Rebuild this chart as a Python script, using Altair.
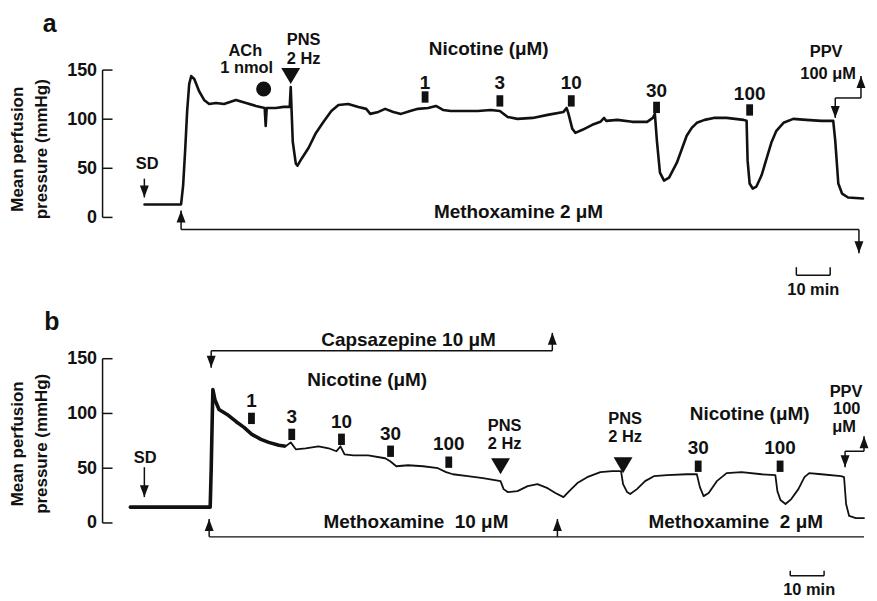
import altair as alt
import pandas as pd

FONT = "Liberation Sans"
INK = "#111111"

# ---------------- panel a : recorded trace (time in min, pressure in mmHg) ----------------
a_trace_t = [12.4, 20.6, 23.2, 23.8, 24.4, 25.0, 25.6, 26.2, 27.1, 28.5, 30.0, 31.5, 33.5, 35.9, 39.4,
             42.4, 45.3, 47.9, 48.2, 48.5, 51.2, 53.5, 55.3, 55.6, 56.2, 57.1, 57.6, 58.8, 60.9, 62.9,
             65.3, 67.6, 69.7, 72.6, 75.6, 77.9, 79.1, 81.5, 83.5, 85.9, 88.2, 90.9, 93.2, 96.2, 98.5,
             100.6, 102.9, 106.5, 110.9, 114.7, 117.4, 119.7, 122.6, 127.1, 131.5, 136.2, 137.1, 137.6,
             138.8, 139.7, 141.8, 144.7, 147.1, 148.2, 148.8, 152.1, 156.5, 160.9, 162.6, 163.2, 163.8,
             164.7, 165.9, 167.4, 169.7, 171.2, 172.6, 174.1, 175.6, 177.9, 180.6, 184.4, 189.4, 190.3,
             190.6, 191.2, 192.1, 193.2, 194.7, 196.2, 197.6, 199.1, 201.2, 204.1, 207.9, 212.4, 215.9,
             216.5, 217.4, 218.5, 220.3, 224.7]
a_trace_v = [13.2, 13.2, 13.2, 32.4, 67.9, 108.4, 135.8, 143.9, 140.9, 128.7, 119.6, 115.5, 116.5, 115.5, 119.6,
             116.5, 113.5, 111.4, 93.2, 111.4, 111.4, 112.5, 112.5, 132.8, 77.0, 54.7, 52.7, 59.8, 70.9, 85.1,
             97.3, 108.4, 114.5, 115.5, 112.5, 110.5, 105.4, 107.4, 110.5, 107.4, 105.4, 108.4, 110.5, 111.4, 113.5,
             109.4, 108.4, 108.4, 108.4, 109.4, 108.4, 102.3, 100.3, 101.3, 104.4, 107.4, 111.4, 106.4,
             90.2, 86.1, 89.2, 94.3, 97.3, 101.3, 98.3, 99.3, 97.3, 97.3, 101.3, 105.4, 78.0,
             45.6, 37.5, 40.5, 55.7, 69.9, 83.1, 91.2, 96.3, 99.3, 101.3, 101.3, 99.3, 98.3,
             57.8, 34.5, 29.4, 31.4, 42.6, 59.8, 76.0, 88.2, 96.3, 100.3, 99.3, 98.3, 98.3,
             78.0, 34.5, 24.3, 20.3, 19.3]

a_dose_labels = ["1", "3", "10", "30", "100"]
a_dose_t = [95.3, 117.4, 138.5, 163.7, 191.2]
a_dose_label_v = [136.8, 136.8, 136.8, 128.7, 125.7]
a_dose_mark_v = [122.6, 118.6, 118.6, 112.0, 109.4]

a_big_text = ["Nicotine (μM)", "Methoxamine 2 μM"]
a_big_t = [114.1, 122.9]
a_big_v = [171.3, 5.1]

a_small_text = ["SD", "ACh", "1 nmol", "PNS", "2 Hz", "PPV", "100 μM", "10 min"]
a_small_t = [13.2, 42.2, 42.6, 59.4, 59.4, 213.8, 214.4, 210.0]
a_small_v = [54.7, 169.3, 152.0, 180.4, 161.1, 168.2, 145.9, -74.0]

a_pns_t = [55.6]
a_pns_v = [143.9]
a_ach_t = [47.6]
a_ach_v = [130.7]

# bracket / arrow lines: start t, end t, start v, end v
a_seg_t = [12.35, 23.2, 23.2, 223.5, 216.5, 216.5, 224.1, 205.0, 205.0, 215.0]
a_seg_t2 = [12.35, 223.5, 23.2, 223.5, 216.5, 224.1, 224.1, 215.0, 205.0, 215.0]
a_seg_v = [39.5, -12.2, -12.2, -12.2, 121.6, 121.6, 121.6, -58.8, -58.8, -58.8]
a_seg_v2 = [20.3, -12.2, 7.1, -36.5, 101.3, 121.6, 143.9, -58.8, -50.7, -50.7]

a_head_t = [12.35, 23.2, 223.5, 216.5, 224.1]
a_head_v = [20.3, 7.1, -36.5, 101.3, 143.9]
a_head_dir = ["down", "up", "down", "down", "up"]

a_panel_label = ["a"]
a_panel_t = [-15.6]
a_panel_v = [196.6]

# ---------------- panel b ----------------
b_trace_t = [7.9, 31.8, 32.1, 32.4, 32.6, 33.2, 34.4, 36.8, 39.4, 41.8, 44.1, 46.8, 49.1, 52.1, 54.1,
             55.6, 57.1, 60.0, 63.8, 66.8, 69.1, 70.3, 71.5, 74.1, 78.5, 83.5, 85.0, 86.8, 90.3, 94.7,
             99.1, 101.5, 103.5, 107.9, 112.4, 115.9, 117.6, 118.5, 119.7, 122.6, 125.6, 128.5, 131.5,
             133.8, 136.2, 137.9, 140.3, 143.2, 147.1, 150.6, 153.2, 153.8, 155.0, 155.9, 157.9, 160.3,
             162.9, 166.8, 172.6, 175.6, 176.5, 177.6, 179.1, 181.5, 184.4, 188.8, 194.7, 198.8, 199.4,
             200.3, 201.8, 203.5, 205.6, 207.4, 208.8, 212.4, 218.2, 219.1, 219.7, 220.6, 222.6, 225.0]
b_trace_v = [14.5, 14.5, 49.1, 94.5, 121.8, 112.7, 103.6, 99.1, 92.7, 87.3, 80.9, 76.4, 73.6, 70.9, 70.0,
             73.6, 67.3, 68.2, 70.0, 68.2, 65.5, 70.0, 62.7, 61.8, 61.8, 59.1, 56.4, 51.8, 52.7, 51.8,
             50.0, 46.4, 44.5, 42.7, 40.9, 39.1, 38.2, 30.9, 28.2, 29.1, 33.6, 35.5, 31.8,
             27.3, 23.6, 29.1, 36.4, 41.8, 46.4, 47.3, 47.3, 35.5, 28.2, 26.4, 30.9, 38.2,
             42.7, 43.6, 44.5, 44.5, 32.7, 24.5, 27.3, 38.2, 45.5, 46.4, 44.5, 43.6, 29.1,
             20.9, 17.3, 21.8, 30.9, 41.8, 45.5, 44.5, 42.7, 41.8, 17.3, 6.4, 4.5, 4.5]

b_dose_labels = ["1", "3", "10", "30", "100", "30", "100"]
b_dose_t = [44.0, 55.9, 70.6, 85.1, 102.3, 176.0, 200.2]
b_dose_label_v = [110.9, 96.4, 91.8, 80.9, 71.8, 68.2, 68.2]
b_dose_mark_v = [95.5, 80.9, 76.4, 65.5, 55.5, 51.8, 51.8]

b_big_text = ["Capsazepine 10 μM", "Nicotine (μM)", "Nicotine (μM)",
              "Methoxamine \u00a010 μM", "Methoxamine \u00a02 μM"]
b_big_t = [90.4, 78.2, 191.2, 92.6, 187.1]
b_big_v = [167.3, 130.9, 99.1, 0.9, 0.9]

b_small_text = ["SD", "PNS", "2 Hz", "PNS", "2 Hz", "PPV", "100", "μM", "10 min"]
b_small_t = [12.6, 118.8, 118.8, 154.4, 154.4, 219.7, 219.9, 219.1, 208.8]
b_small_v = [59.1, 88.2, 71.8, 94.5, 78.2, 120.0, 103.6, 87.3, -61.0]

b_pns_t = [117.6, 153.8]
b_pns_v = [51.8, 52.7]

b_seg_t = [12.35, 32.1, 32.1, 132.9, 31.5, 31.5, 134.4, 219.4, 219.4, 225.0, 203.2, 203.2, 213.2]
b_seg_t2 = [12.35, 132.9, 32.1, 132.9, 225.0, 31.5, 134.4, 219.4, 225.0, 225.0, 213.2, 203.2, 213.2]
b_seg_v = [50.9, 157.3, 157.3, 157.3, -12.7, -12.7, -12.7, 65.5, 65.5, 65.5, -48.2, -48.2, -48.2]
b_seg_v2 = [23.6, 157.3, 141.8, 173.6, -12.7, 3.6, 3.6, 50.9, 65.5, 79.1, -48.2, -43.6, -43.6]

b_head_t = [12.35, 32.1, 132.9, 31.5, 134.4, 219.4, 225.0]
b_head_v = [23.6, 141.8, 173.6, 3.6, 3.6, 50.9, 79.1]
b_head_dir = ["down", "down", "up", "up", "up", "down", "up"]

b_panel_label = ["b"]
b_panel_t = [-15.0]
b_panel_v = [183.6]

tick_values = [0, 50, 100, 150]
x_domain = [0, 225]

# ---------------- shapes ----------------
DOWN_HEAD = "M-0.75,-2 L0.75,-2 L0,0 Z"
UP_HEAD = "M-0.75,2 L0.75,2 L0,0 Z"
PNS_TRI = "M-1,-0.85 L1,-0.85 L0,0.85 Z"
DOSE_BAR = "M-0.6,-1 L0.6,-1 L0.6,1 L-0.6,1 Z"


def build_panel(trace_t, trace_v, dose_labels, dose_t, dose_label_v, dose_mark_v,
                big_text, big_t, big_v, small_text, small_t, small_v,
                pns_t, pns_v, seg_t, seg_t2, seg_v, seg_v2,
                head_t, head_v, head_dir, panel_label, panel_t, panel_v,
                y_domain, title_y, line_w, extra=None):
    X = alt.X("t:Q", scale=alt.Scale(domain=x_domain, nice=False, zero=False), axis=None)
    Y = alt.Y("v:Q", scale=alt.Scale(domain=y_domain, nice=False, zero=False),
              axis=alt.Axis(values=tick_values, title=["Mean perfusion", "pressure (mmHg)"],
                            domain=False, ticks=False, tickSize=0, grid=False,
                            labelFont=FONT, labelFontSize=18, labelFontWeight="bold",
                            labelColor=INK, labelPadding=6,
                            titleFont=FONT, titleFontSize=17, titleFontWeight="bold",
                            titleColor=INK, titlePadding=16, titleLineHeight=24,
                            titleY=title_y))

    trace = pd.DataFrame({"t": trace_t, "v": trace_v})
    layers = [alt.Chart(trace).mark_line(color=INK, strokeWidth=line_w, strokeJoin="round",
                                          strokeCap="round").encode(x=X, y=Y)]
    if extra is not None:
        layers.append(alt.Chart(trace).transform_filter(alt.datum.t <= extra)
                      .mark_line(color=INK, strokeWidth=3.6, strokeJoin="round")
                      .encode(x=X, y=Y))

    # axis spine and inward ticks
    ax_t = [0] + [0] * len(tick_values)
    ax_t2 = [0] + [2.94] * len(tick_values)
    ax_v = [0] + tick_values
    ax_v2 = [150] + tick_values
    segs = pd.DataFrame({"t": ax_t + seg_t, "t2": ax_t2 + seg_t2,
                         "v": ax_v + seg_v, "v2": ax_v2 + seg_v2})
    layers.append(alt.Chart(segs).mark_rule(color=INK, strokeWidth=1.5)
                  .encode(x=X, x2="t2:Q", y=Y, y2="v2:Q"))

    heads = pd.DataFrame({"t": head_t, "v": head_v, "dir": head_dir})
    layers.append(alt.Chart(heads).mark_point(filled=True, opacity=1, size=144, color=INK,
                                              strokeWidth=0)
                  .encode(x=X, y=Y,
                          shape=alt.Shape("dir:N", scale=alt.Scale(domain=["up", "down"],
                                                                   range=[UP_HEAD, DOWN_HEAD]),
                                          legend=None)))

    marks = pd.DataFrame({"t": dose_t, "v": dose_mark_v})
    layers.append(alt.Chart(marks).mark_point(filled=True, opacity=1, size=130, color=INK,
                                              strokeWidth=0, shape=DOSE_BAR)
                  .encode(x=X, y=Y))

    pns = pd.DataFrame({"t": pns_t, "v": pns_v})
    layers.append(alt.Chart(pns).mark_point(filled=True, opacity=1, size=361, color=INK,
                                            strokeWidth=0, shape=PNS_TRI)
                  .encode(x=X, y=Y))

    def text_layer(labels, ts, vs, size):
        df = pd.DataFrame({"t": ts, "v": vs, "label": labels})
        return (alt.Chart(df).mark_text(font=FONT, fontWeight="bold", fontSize=size, color=INK,
                                        align="center", baseline="middle")
                .encode(x=X, y=Y, text="label:N"))

    layers.append(text_layer(dose_labels, dose_t, dose_label_v, 19))
    layers.append(text_layer(big_text, big_t, big_v, 19))
    layers.append(text_layer(small_text, small_t, small_v, 16.5))
    layers.append(text_layer(panel_label, panel_t, panel_v, 25))
    return layers, X, Y


layers_a, Xa, Ya = build_panel(a_trace_t, a_trace_v, a_dose_labels, a_dose_t, a_dose_label_v,
                               a_dose_mark_v, a_big_text, a_big_t, a_big_v, a_small_text,
                               a_small_t, a_small_v, a_pns_t, a_pns_v, a_seg_t, a_seg_t2,
                               a_seg_v, a_seg_v2, a_head_t, a_head_v, a_head_dir,
                               a_panel_label, a_panel_t, a_panel_v,
                               [-84.1, 211.8], 140, 2.6)
ach = pd.DataFrame({"t": a_ach_t, "v": a_ach_v})
layers_a.append(alt.Chart(ach).mark_point(filled=True, opacity=1, size=227, color=INK,
                                          strokeWidth=0, shape="circle").encode(x=Xa, y=Ya))
panel_a = alt.layer(*layers_a).properties(width=765, height=292)

layers_b, Xb, Yb = build_panel(b_trace_t, b_trace_v, b_dose_labels, b_dose_t, b_dose_label_v,
                               b_dose_mark_v, b_big_text, b_big_t, b_big_v, b_small_text,
                               b_small_t, b_small_v, b_pns_t, b_pns_v, b_seg_t, b_seg_t2,
                               b_seg_v, b_seg_v2, b_head_t, b_head_v, b_head_dir,
                               b_panel_label, b_panel_t, b_panel_v,
                               [-69.1, 203.6], 144, 1.8, extra=55)
panel_b = alt.layer(*layers_b).properties(width=765, height=300)

chart = (alt.vconcat(panel_a, panel_b, spacing=0)
         .resolve_scale(x="independent", y="independent", shape="independent")
         .properties(padding=0)
         .configure_view(stroke=None))

chart.save("out.html", embed_options={"renderer": "svg", "actions": False})
